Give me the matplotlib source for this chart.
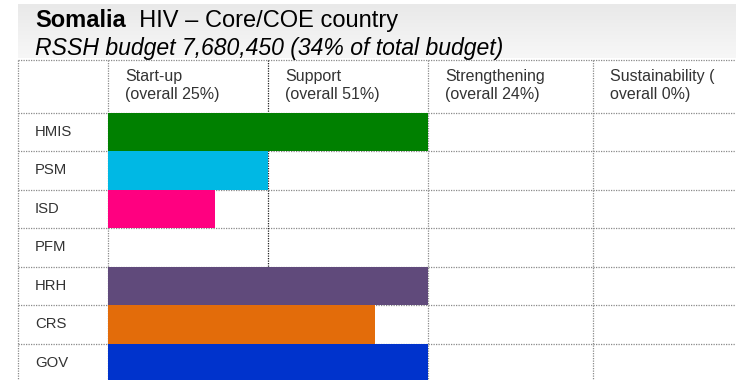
import matplotlib
matplotlib.use("Agg")
import matplotlib.pyplot as plt
from matplotlib.colors import LinearSegmentedColormap
import numpy as np

plt.rcParams['font.family'] = ['Liberation Sans', 'DejaVu Sans']

# data
country = "Somalia"
subtitle = "  HIV \u2013 Core/COE country"
budget_line = "RSSH budget 7,680,450 (34% of total budget)"
stages = ["Start-up\n(overall 25%)", "Support\n(overall 51%)",
          "Strengthening\n(overall 24%)", "Sustainability (\noverall 0%)"]
areas = ["HMIS", "PSM", "ISD", "PFM", "HRH", "CRS", "GOV"]
# how far along the stages each area reaches (1.0 = one full stage column)
progress = [2.0, 1.0, 0.67, 0.0, 2.0, 1.67, 2.0]
bar_colors = ["#008000", "#00B8E4", "#FF0080", "#FFFFFF",
              "#604A7B", "#E36C0A", "#0033CC"]

# layout in pixels
W, H = 736, 380
tbl_left = 18
col_edges = [108, 268, 428, 593]
col_w = 160
header_top = 60
header_bot = 112.7
row_h = 38.5

fig = plt.figure(figsize=(W / 100, H / 100), dpi=100)
ax = fig.add_axes([0, 0, 1, 1])
ax.axis("off")

# title banner with a soft gradient
cmap = LinearSegmentedColormap.from_list("banner", ["#e9e9e9", "#f7f7f7"])
grad = np.linspace(0, 1, 64).reshape(-1, 1)
ax.imshow(grad, cmap=cmap, extent=(tbl_left, W, 58, 4), aspect="auto",
          origin="upper", zorder=0)

ax.set_xlim(0, W)
ax.set_ylim(H, 0)

t1 = ax.text(35, 27, country, fontsize=17, fontweight="bold",
             va="baseline", ha="left", color="#000000")
fig.canvas.draw()
bb = t1.get_window_extent(renderer=fig.canvas.get_renderer())
x_after = ax.transData.inverted().transform((bb.x1, bb.y0))[0]
ax.text(x_after, 27, subtitle, fontsize=17, va="baseline", ha="left",
        color="#000000")
ax.text(35, 55, budget_line, fontsize=16.6, style="italic", va="baseline",
        ha="left", color="#000000")

# header text
for i, s in enumerate(stages):
    ax.text(col_edges[i] + 17, 69.5, s, fontsize=11.5, va="top", ha="left",
            color="#333333", linespacing=1.22)

# rows
row_centers = [header_bot + row_h * (i + 0.5) for i in range(len(areas))]
for yc, name in zip(row_centers, areas):
    ax.text(35, yc, name, fontsize=10.7, va="center", ha="left",
            color="#333333")

ax.barh(row_centers, [p * col_w for p in progress], left=col_edges[0],
        height=row_h, color=bar_colors, zorder=3)

# dotted grid
grid_c = "#8a8a8a"
hlines = [header_top, header_bot] + [header_bot + row_h * (i + 1)
                                     for i in range(len(areas))]
for y in hlines:
    ax.plot([tbl_left, W], [y, y], ls=(0, (1, 1)), lw=0.9, color=grid_c,
            zorder=2)
for x in [tbl_left] + col_edges:
    c = "#222222" if x == col_edges[1] else grid_c
    ax.plot([x, x], [header_top, H], ls=(0, (1, 1)), lw=0.9, color=c,
            zorder=2)

fig.savefig("out.png", dpi=100)
